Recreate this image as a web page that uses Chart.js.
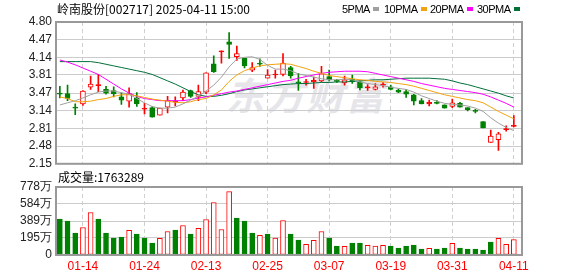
<!DOCTYPE html>
<html>
<head>
<meta charset="utf-8">
<script src="https://cdn.jsdelivr.net/npm/chart.js@4.4.1/dist/chart.umd.min.js"></script>
<style>
  body { margin: 0; background: #fff; }
  #wrap { position: relative; width: 578px; height: 276px; overflow: hidden; }
  canvas { position: absolute; left: 0; z-index: 1; }
  #price { top: 0; }
  #vol { top: 170px; }
  .txt { position: absolute; z-index: 2; white-space: nowrap; color: #000;
         font: 12px "Noto Sans CJK SC", Arial, sans-serif; line-height: 14px; }
  .leg { position: absolute; top: 2px; z-index: 2; white-space: nowrap; color: #000;
         font: 11px Arial, sans-serif; line-height: 14px; letter-spacing: -0.5px; }
  .sq { display: inline-block; width: 6px; height: 4px; margin-left: 3px; vertical-align: 2px; }
  #mark { position: absolute; left: 226px; top: 66px; z-index: 0; color: #e6e6ea;
          font: italic bold 38px "Noto Sans CJK SC", sans-serif; letter-spacing: 2px; }
</style>
</head>
<body>
<div id="wrap">
  <div id="mark">东方财富</div>
  <div class="txt" style="left:57px;top:2px">岭南股份[002717] 2025-04-11 15:00</div>
  <div class="leg" style="left:342px">5PMA<span class="sq" style="background:#a0a0a0"></span></div>
  <div class="leg" style="left:384px">10PMA<span class="sq" style="background:#f2a20c"></span></div>
  <div class="leg" style="left:430px">20PMA<span class="sq" style="background:#ff00ff"></span></div>
  <div class="leg" style="left:477px">30PMA<span class="sq" style="background:#00703a"></span></div>
  <div class="txt" style="left:58px;top:170px">成交量:1763289</div>
  <canvas id="price" width="578" height="175"></canvas>
  <canvas id="vol" width="578" height="106"></canvas>
</div>
<script>
// daily bars, 2025-01-09 .. 2025-04-11
const dates = ["01-09","01-10","01-13","01-14","01-15","01-16","01-17","01-20","01-21","01-22",
  "01-23","01-24","01-27","02-05","02-06","02-07","02-10","02-11","02-12","02-13",
  "02-14","02-17","02-18","02-19","02-20","02-21","02-24","02-25","02-26","02-27",
  "02-28","03-03","03-04","03-05","03-06","03-07","03-10","03-11","03-12","03-13",
  "03-14","03-17","03-18","03-19","03-20","03-21","03-24","03-25","03-26","03-27",
  "03-28","03-31","04-01","04-02","04-03","04-07","04-08","04-09","04-10","04-11"];
const open = [3.47,3.46,3.20,3.27,3.58,3.61,3.54,3.52,3.40,3.32,
  3.38,3.17,3.20,3.06,3.21,3.30,3.38,3.52,3.41,3.49,
  4.02,4.24,4.43,4.15,4.12,3.90,4.02,3.75,3.81,3.82,
  3.95,3.68,3.67,3.68,3.70,3.78,3.70,3.66,3.73,3.68,
  3.57,3.54,3.62,3.59,3.53,3.50,3.44,3.33,3.27,3.29,
  3.25,3.22,3.28,3.20,3.14,2.94,2.55,2.60,2.79,2.85];
const high = [3.60,3.62,3.27,3.52,3.79,3.82,3.60,3.59,3.47,3.57,
  3.48,3.28,3.22,3.19,3.41,3.40,3.53,3.53,3.62,3.85,
  4.17,4.26,4.60,4.35,4.12,4.04,4.11,3.91,3.90,4.21,
  3.97,3.84,3.73,3.77,3.97,3.90,3.73,3.79,3.81,3.70,
  3.63,3.65,3.67,3.62,3.55,3.54,3.45,3.37,3.34,3.33,
  3.25,3.36,3.30,3.20,3.17,2.94,2.78,2.74,2.86,3.05];
const low = [3.38,3.33,3.07,3.24,3.54,3.50,3.45,3.40,3.26,3.21,
  3.22,3.08,3.02,3.06,3.10,3.23,3.33,3.39,3.33,3.46,
  3.86,4.03,4.12,4.08,3.94,3.87,3.97,3.75,3.75,3.79,
  3.75,3.52,3.62,3.56,3.68,3.70,3.67,3.62,3.65,3.53,
  3.52,3.53,3.58,3.53,3.48,3.39,3.25,3.27,3.23,3.27,
  3.19,3.20,3.21,3.14,3.10,2.82,2.55,2.40,2.76,2.84];
const close = [3.45,3.37,3.19,3.51,3.64,3.63,3.47,3.46,3.34,3.46,
  3.27,3.18,3.02,3.19,3.33,3.31,3.49,3.41,3.50,3.85,
  3.87,4.26,4.38,4.21,3.98,3.95,4.01,3.81,3.82,4.03,
  3.79,3.66,3.68,3.71,3.83,3.72,3.69,3.72,3.68,3.57,
  3.58,3.59,3.63,3.54,3.49,3.45,3.32,3.27,3.30,3.28,
  3.19,3.29,3.21,3.16,3.13,2.82,2.67,2.71,2.81,2.87];
// volume in 万 (10k)
const volume = [410,387,250,315,486,410,250,194,205,281,
  239,194,137,190,269,285,338,239,304,406,
  600,292,725,421,387,250,224,239,194,395,
  239,171,121,167,269,194,102,99,137,137,
  110,102,110,102,80,102,114,68,76,68,
  80,133,80,68,68,57,148,190,121,176];
// 1 = red volume bar, 0 = green
const volUp = [0,0,0,1,1,0,0,0,0,1, 0,0,0,1,1,0,1,0,1,1,
  1,1,1,0,0,0,1,0,1,1, 0,0,1,1,1,0,0,1,0,0,
  1,1,1,0,0,0,0,0,1,0, 0,1,0,0,0,0,0,1,1,1];
const ma5 = [3.25,3.29,3.33,3.38,3.44,3.49,3.51,3.51,3.48,3.45,
  3.37,3.29,3.22,3.19,3.19,3.21,3.27,3.34,3.41,3.51,
  3.62,3.77,3.96,4.11,4.14,4.15,4.10,3.99,3.92,3.92,
  3.89,3.83,3.80,3.77,3.74,3.72,3.72,3.73,3.72,3.68,
  3.65,3.63,3.61,3.58,3.56,3.54,3.49,3.42,3.37,3.32,
  3.28,3.26,3.25,3.23,3.19,3.13,3.01,2.91,2.83,2.77];
const ma10 = [3.40,3.37,3.31,3.31,3.32,3.35,3.37,3.41,3.44,3.44,
  3.42,3.39,3.36,3.34,3.32,3.30,3.29,3.31,3.35,3.37,
  3.44,3.53,3.69,3.81,3.89,3.94,3.98,4.00,4.01,4.02,
  4.01,3.97,3.93,3.88,3.84,3.80,3.78,3.76,3.74,3.72,
  3.71,3.69,3.68,3.67,3.65,3.63,3.60,3.56,3.52,3.48,
  3.44,3.41,3.38,3.35,3.33,3.29,3.21,3.13,3.06,2.99];
const ma20 = [4.09,4.05,4.00,3.94,3.88,3.82,3.73,3.64,3.55,3.47,
  3.41,3.37,3.35,3.33,3.33,3.33,3.33,3.35,3.38,3.40,
  3.43,3.46,3.49,3.51,3.54,3.57,3.60,3.63,3.66,3.69,
  3.71,3.75,3.78,3.81,3.84,3.86,3.87,3.88,3.88,3.88,
  3.87,3.84,3.81,3.78,3.75,3.72,3.69,3.65,3.62,3.59,
  3.56,3.54,3.52,3.50,3.48,3.45,3.40,3.34,3.28,3.21];
const ma30 = [4.06,4.06,4.06,4.06,4.06,4.04,4.01,3.98,3.95,3.92,
  3.89,3.86,3.82,3.76,3.70,3.64,3.57,3.50,3.44,3.41,
  3.41,3.43,3.46,3.50,3.53,3.55,3.57,3.59,3.61,3.63,
  3.64,3.65,3.65,3.66,3.67,3.67,3.68,3.68,3.69,3.70,
  3.71,3.72,3.72,3.73,3.74,3.75,3.75,3.75,3.75,3.74,
  3.73,3.70,3.66,3.63,3.59,3.55,3.51,3.47,3.42,3.38];
const priceTicks = [2.15,2.48,2.81,3.14,3.47,3.81,4.14,4.47,4.80];
const volTicks = [0,195,389,584,778];
const labelDays = ["01-14","01-24","02-13","02-25","03-07","03-19","03-31","04-11"];

const RED = '#ff0000', GREEN = '#008000';
const idx = dates.map((d, i) => i + 1);
const dayTicks = labelDays.map(d => dates.indexOf(d) + 1);
const candleColor = close.map((c, i) => c >= open[i] ? RED : GREEN);
const bodyFill = close.map((c, i) => (c - open[i] >= 0.04 ? '#fff' : candleColor[i]));
const volColor = volUp.map(u => u ? RED : GREEN);

Chart.defaults.animation = false;
Chart.defaults.font.family = 'Arial, "Liberation Sans", sans-serif';
Chart.defaults.font.size = 12;

// gray frame around the plot area
const frame = {
  id: 'frame',
  afterDraw(chart) {
    const { ctx, chartArea: a } = chart;
    ctx.save();
    ctx.strokeStyle = '#999';
    ctx.lineWidth = 2;
    ctx.strokeRect(a.left, a.top, a.width, a.height);
    ctx.restore();
  }
};

const xAxis = (showLabels) => ({
  type: 'linear',
  min: 0.5,
  max: 61.06,
  offset: false,
  afterBuildTicks: s => { s.ticks = dayTicks.map(v => ({ value: v })); },
  afterFit: s => { s.height = showLabels ? 21 : 0; },
  grid: { color: '#d0d0d0', drawTicks: false, offset: false },
  border: { display: false, dash: [4, 3] },
  ticks: {
    display: showLabels,
    autoSkip: false,
    maxRotation: 0,
    padding: 4,
    color: RED,
    callback: v => dates[v - 1]
  }
});

const yAxis = (min, max, ticks, fmt) => ({
  min,
  max,
  afterBuildTicks: s => { s.ticks = ticks.map(v => ({ value: v })); },
  afterFit: s => { s.width = 56; },
  grid: { color: '#cccccc', drawTicks: false },
  border: { display: false },
  ticks: { color: '#222', padding: 4, autoSkip: false, callback: fmt }
});

const line = (label, values, color) => ({
  type: 'line',
  label,
  data: idx.map((x, i) => ({ x, y: values[i] })),
  borderColor: color,
  borderWidth: 1,
  pointRadius: 0,
  tension: 0,
  order: 1
});

new Chart(document.getElementById('price'), {
  type: 'bar',
  data: {
    datasets: [
      line('5PMA', ma5, '#a0a0a0'),
      line('10PMA', ma10, '#f2a20c'),
      line('20PMA', ma20, '#ff00ff'),
      line('30PMA', ma30, '#00703a'),
      {
        label: 'body',
        data: idx.map((x, i) => ({ x, y: [open[i], close[i]] })),
        backgroundColor: bodyFill,
        borderColor: candleColor,
        borderWidth: 1,
        borderSkipped: false,
        barThickness: 5,
        minBarLength: 1,
        grouped: false,
        order: 2
      },
      {
        label: 'wick',
        data: idx.map((x, i) => ({ x, y: [low[i], high[i]] })),
        backgroundColor: candleColor,
        barThickness: 1,
        grouped: false,
        order: 3
      }
    ]
  },
  options: {
    responsive: false,
    devicePixelRatio: 1,
    layout: { padding: { top: 22, right: 56, bottom: 9, left: 0 } },
    plugins: { legend: { display: false }, tooltip: { enabled: false } },
    scales: {
      x: xAxis(false),
      y: yAxis(2.15, 4.80, priceTicks, v => v.toFixed(2))
    }
  },
  plugins: [frame]
});

new Chart(document.getElementById('vol'), {
  type: 'bar',
  data: {
    datasets: [{
      label: 'volume',
      data: idx.map((x, i) => ({ x, y: volume[i] })),
      backgroundColor: volColor.map(c => (c === RED ? '#fff' : c)),
      borderColor: volColor,
      borderWidth: 1,
      borderSkipped: false,
      barThickness: 5,
      grouped: false
    }]
  },
  options: {
    responsive: false,
    devicePixelRatio: 1,
    layout: { padding: { top: 17, right: 56, bottom: 0, left: 0 } },
    plugins: { legend: { display: false }, tooltip: { enabled: false } },
    scales: {
      x: xAxis(true),
      y: yAxis(0, 778, volTicks, v => (v === 0 ? '0' : v + '万'))
    }
  },
  plugins: [frame]
});
</script>
</body>
</html>
